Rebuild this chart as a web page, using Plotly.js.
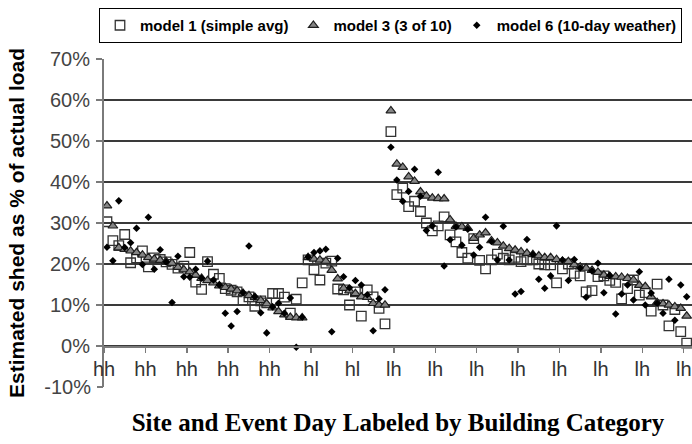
<!DOCTYPE html>
<html>
<head>
<meta charset="utf-8">
<script src="https://cdn.plot.ly/plotly-3.0.1.min.js"></script>
<style>
html,body{margin:0;padding:0;background:#ffffff;}
#chart{width:692px;height:444px;}
</style>
</head>
<body>
<div id="chart"></div>
<script>
// Series names
const seriesNames = ['model 1 (simple avg)', 'model 3 (3 of 10)', 'model 6 (10-day weather)'];

// Category axis labels (one label every 7 site/event days)
const tickLabels = ['hh','hh','hh','hh','hh','hl','hl','lh','lh','lh','lh','lh','lh','lh','lh'];
const labelEvery = 7;

// Estimated shed (% of actual load), one value per site/event day
const model1 = [
  30.3, 25.7, 24.5, 27.2, 20.3, 21.5, 23.2, 19.3, 21.5, 21.1,
  20.5, 19.9, 19.0, 19.5, 22.8, 15.6, 13.8, 20.6, 17.5, 16.5,
  14.0, 13.6, 13.2, 11.2, 12.0, 9.7, 11.0, 10.5, 12.8, 12.8,
  11.9, 8.0, 11.4, 15.4,
  21.0, 18.6, 16.1, 20.2, 20.7, 13.9, 13.7, 10.0, 13.2, 7.3,
  13.7, 12.0, 9.2, 5.4,
  52.3, 36.9, 38.5, 34.0, 35.3, 32.8, 30.0, 28.1, 29.3, 31.5,
  27.1, 25.4, 22.8, 21.4, 26.2, 20.9, 18.8, 21.0, 22.4, 21.4,
  21.0, 21.6, 20.6, 21.0, 21.0, 20.0, 19.8, 19.8, 15.4, 18.8,
  20.0, 17.7, 17.1, 13.2, 13.5, 16.9, 17.1, 16.0, 15.5, 11.5,
  14.0, 16.1, 12.4, 13.0, 8.5, 15.1, 10.0, 4.9, 8.9, 3.5,
  0.7
];

const model3 = [
  34.2, 29.3, 24.0, 23.6, 23.2, 22.8, 22.2, 21.6, 21.2, 20.9,
  20.6, 20.2, 19.2, 18.6, 18.1, 17.3, 16.5, 16.0, 15.4, 14.7,
  14.3, 13.9, 13.5, 12.9, 12.3, 11.9, 11.1, 10.3, 9.3, 8.4,
  7.6, 7.0, 6.9, 6.9,
  21.6, 21.2, 21.0, 20.7, 18.5, 16.4, 14.1, 13.5, 12.8, 12.0,
  11.9, 10.4, 10.0, 10.0,
  57.4, 44.4, 43.6, 41.3, 40.2, 37.6, 36.6, 36.1, 36.0, 35.9,
  30.8, 29.2, 29.1, 28.7, 26.3, 27.1, 27.6, 25.7, 25.2, 24.4,
  23.8, 23.4, 23.0, 22.6, 22.3, 22.0, 21.6, 21.6, 21.1, 20.7,
  20.6, 19.8, 19.3, 19.0, 18.5, 18.0, 17.3, 17.0, 16.9, 16.8,
  16.5, 16.1, 14.8, 14.5, 12.0, 10.6, 10.3, 10.0, 9.6, 9.2,
  7.3
];

const model6 = [
  24.1, 20.8, 35.4, 24.0, 25.2, 28.7, 19.9, 31.4, 18.7, 23.5,
  20.5, 10.6, 21.9, 16.9, 16.8, 18.7, 16.5, 20.7, 16.1, 14.9,
  8.0, 4.9, 8.4, 13.0, 24.4, 12.0, 8.1, 3.2, 9.5, 10.4,
  8.0, 11.7, -0.3, 7.0,
  21.7, 22.8, 23.2, 23.6, 3.5, 21.4, 16.9, 14.2, 16.0, 14.9,
  12.5, 3.7, 11.5, 13.7,
  48.5, 40.5, 35.3, 37.7, 43.1, 36.5, 28.2, 29.3, 42.4, 19.5,
  25.9, 29.0, 24.6, 28.5, 22.2, 24.1, 31.4, 25.5, 21.0, 29.2,
  21.0, 12.7, 13.3, 26.0, 22.3, 16.3, 14.1, 17.1, 29.3, 21.0,
  16.0, 21.1, 19.0, 11.9, 18.3, 20.2, 13.0, 17.2, 7.8, 12.7,
  14.9, 11.2, 18.1, 10.0, 12.9, 10.4, 8.0, 16.3, 6.3, 14.9,
  12.0
];

// Y axis ticks (percent)
const yGridTicks = [0, 10, 20, 30, 40, 50, 60, 70];
const yExtraTicks = [-10];

const xIdx = model1.map((_, i) => i);

const sansFont = 'Liberation Sans, Arial, Helvetica, sans-serif';
const serifFont = 'Liberation Serif, Times New Roman, serif';

const traces = [
  {
    x: xIdx, y: model1, type: 'scatter', mode: 'markers', name: seriesNames[0],
    marker: {symbol: 'square-open', size: 9.5, color: '#333333', line: {width: 1.3}}
  },
  {
    x: xIdx, y: model3, type: 'scatter', mode: 'markers', name: seriesNames[1],
    marker: {symbol: 'triangle-up', size: 8.5, color: '#858585', line: {color: '#1e1e1e', width: 1.2}}
  },
  {
    x: xIdx, y: model6, type: 'scatter', mode: 'markers', name: seriesNames[2],
    marker: {symbol: 'diamond', size: 5.8, color: '#000000', line: {width: 0}}
  },
  {
    // carrier for the extra "-10%" tick axis (no data drawn)
    x: [], y: [], type: 'scatter', mode: 'markers', yaxis: 'y2',
    showlegend: false, hoverinfo: 'skip'
  }
];

const nCats = model1.length;
const tickPos = tickLabels.map((_, j) => j * labelEvery - 0.5);

const layout = {
  width: 692, height: 444,
  margin: {l: 104, r: 0, t: 59, b: 57, pad: 0},
  paper_bgcolor: '#ffffff', plot_bgcolor: '#ffffff',
  showlegend: true,
  legend: {
    orientation: 'h', x: -0.0085, xanchor: 'left', y: 1.1555, yanchor: 'top',
    bordercolor: '#000000', borderwidth: 1, bgcolor: '#ffffff',
    font: {family: sansFont, size: 15, color: '#000000', weight: 700},
    itemwidth: 30, traceorder: 'normal'
  },
  xaxis: {
    range: [-0.5, nCats - 0.1],
    anchor: 'free', position: 0.125,
    tickmode: 'array', tickvals: tickPos, ticktext: tickLabels,
    ticks: 'outside', ticklen: 5, tickwidth: 1.5, tickcolor: '#7a7a7a',
    ticklabelshift: 0, ticklabelstandoff: -1, ticklabeloverflow: 'allow',
    tickfont: {family: sansFont, size: 20, color: '#333333'},
    showline: true, linecolor: '#7a7a7a', linewidth: 1.5,
    showgrid: false, zeroline: false, automargin: false, fixedrange: true,
    title: {
      text: 'Site and Event Day Labeled by Building Category',
      font: {family: serifFont, size: 25, color: '#000000', weight: 700},
      standoff: 35
    }
  },
  yaxis: {
    range: [-10, 70],
    tickmode: 'array', tickvals: yGridTicks, ticktext: yGridTicks.map(v => v + '%'),
    ticks: 'outside', ticklen: 6, tickwidth: 1.5, tickcolor: '#7a7a7a',
    ticklabelstandoff: 2,
    tickfont: {family: sansFont, size: 20, color: '#444444'},
    showline: true, linecolor: '#7a7a7a', linewidth: 2,
    showgrid: true, gridcolor: '#3a3a3a', gridwidth: 1.4,
    zeroline: false, automargin: false, fixedrange: true,
    title: {
      text: 'Estimated shed as % of actual load',
      font: {family: sansFont, size: 21, color: '#000000', weight: 700},
      standoff: 20
    }
  },
  yaxis2: {
    overlaying: 'y', anchor: 'x', side: 'left',
    range: [-10, 70],
    tickmode: 'array', tickvals: yExtraTicks, ticktext: yExtraTicks.map(v => v + '%'),
    ticks: 'outside', ticklen: 6, tickwidth: 1.5, tickcolor: '#7a7a7a',
    ticklabelstandoff: 2,
    tickfont: {family: sansFont, size: 20, color: '#444444'},
    showline: false, showgrid: false, zeroline: false, automargin: false, fixedrange: true
  }
};

Plotly.newPlot('chart', traces, layout, {displayModeBar: false, staticPlot: true});
</script>
</body>
</html>
